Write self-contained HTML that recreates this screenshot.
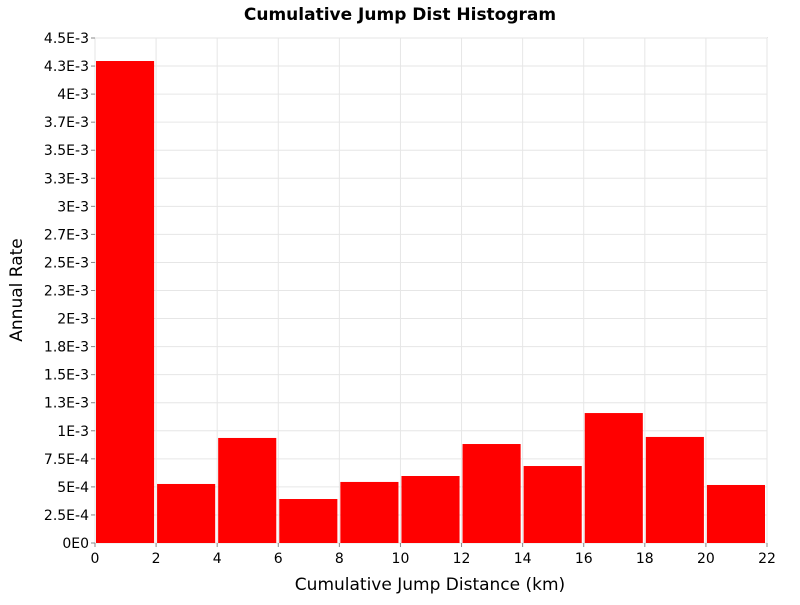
<!DOCTYPE html>
<html><head><meta charset="utf-8"><style>
body{margin:0;background:#fff;font-family:"Liberation Sans","DejaVu Sans",sans-serif}
</style></head><body>
<svg width="800" height="600" xmlns="http://www.w3.org/2000/svg">
<text x="400" y="20" text-anchor="middle" font-size="17" font-weight="bold" font-family="DejaVu Sans, Liberation Sans, sans-serif">Cumulative Jump Dist Histogram</text>
<rect x="95" y="38" width="672" height="505" fill="#fff" stroke="#999" stroke-width="1"/>
<g id="grid"></g><g id="bars"></g><g id="axes"></g>
<text x="430" y="590" text-anchor="middle" font-size="17" font-family="DejaVu Sans, Liberation Sans, sans-serif">Cumulative Jump Distance (km)</text>
<text transform="translate(22,290) rotate(-90)" text-anchor="middle" font-size="17" font-family="DejaVu Sans, Liberation Sans, sans-serif">Annual Rate</text>
</svg>
<script>
const binStarts=[0,2,4,6,8,10,12,14,16,18,20];
const rates=[4.295e-3,0.526e-3,0.936e-3,0.392e-3,0.544e-3,0.597e-3,0.882e-3,0.686e-3,1.158e-3,0.945e-3,0.517e-3];
const yTickLabels=["0E0","2.5E-4","5E-4","7.5E-4","1E-3","1.3E-3","1.5E-3","1.8E-3","2E-3","2.3E-3","2.5E-3","2.7E-3","3E-3","3.3E-3","3.5E-3","3.7E-3","4E-3","4.3E-3","4.5E-3"];
const xTickLabels=["0","2","4","6","8","10","12","14","16","18","20","22"];
const binWidth=2;
const X0=95,X1=767,Y0=543,Y1=38,XMAX=22,YMAX=4.5e-3;
const sx=v=>X0+(X1-X0)*v/XMAX, sy=v=>Y0-(Y0-Y1)*v/YMAX;
const NS="http://www.w3.org/2000/svg";
function mk(t,a,p){const e=document.createElementNS(NS,t);for(const k in a)e.setAttribute(k,a[k]);p.appendChild(e);return e;}
const grid=document.getElementById('grid'),bars=document.getElementById('bars'),axes=document.getElementById('axes');
yTickLabels.forEach((l,i)=>{const v=i*2.5e-4,y=sy(v);
 const g=mk('line',{x1:X0,x2:X1,y1:y,y2:y,stroke:'#e6e6e6','stroke-width':1},grid);
 
 
 const tk=mk('line',{x1:X0-4,x2:X0,y1:y,y2:y,stroke:'#888'},axes);
 
 
 const t=mk('text',{x:X0-6,y:y+5,'text-anchor':'end','font-size':14,'font-family':'DejaVu Sans, Liberation Sans, sans-serif'},axes);t.textContent=l;
 
 });
xTickLabels.forEach(l=>{const x=sx(+l);
 const g=mk('line',{x1:x,x2:x,y1:Y1,y2:Y0,stroke:'#e6e6e6','stroke-width':1},grid);
 
 
 const tk=mk('line',{x1:x,x2:x,y1:Y0,y2:Y0+4,stroke:'#888'},axes);
 
 
 const t=mk('text',{x:x,y:Y0+20,'text-anchor':'middle','font-size':14,'font-family':'DejaVu Sans, Liberation Sans, sans-serif'},axes);t.textContent=l;
 
 });
binStarts.forEach((b,i)=>{const xa=sx(b)+1,xb=sx(b+binWidth)-2,y=sy(rates[i]);
 const r=mk('rect',{x:xa,y:y,width:xb-xa,height:Y0-y,fill:'#ff0000'},bars);
 
 });
</script>
</body></html>
